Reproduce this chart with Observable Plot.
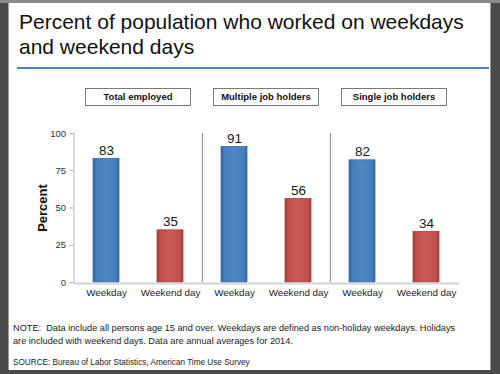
<!DOCTYPE html>
<html>
<head>
<meta charset="utf-8">
<script src="https://cdn.jsdelivr.net/npm/d3@7"></script>
<script src="https://cdn.jsdelivr.net/npm/@observablehq/plot@0.6"></script>
<style>
  html, body { margin: 0; padding: 0; }
  body { width: 500px; height: 374px; background: #4a4a4a; position: relative; overflow: hidden; font-family: "Liberation Sans", Arial, sans-serif; }
  #topstrip { position: absolute; left: 0; top: 0; width: 500px; height: 3px; background: #8a8a8a; }
  #panel { position: absolute; left: 8px; top: 3px; width: 483px; height: 367px; background: #fff; border-left: 1px solid #9a9a9a; border-right: 1px solid #9a9a9a; box-sizing: border-box; }
  #title { position: absolute; left: 19px; top: 9px; font-size: 21px; line-height: 25px; color: #111; white-space: nowrap; }
  #rule { position: absolute; left: 17px; top: 67px; width: 472px; height: 2px; background: #4f81bd; }
  #chart { position: absolute; left: 0; top: 80px; }
  .hdr { position: absolute; top: 88px; height: 18px; width: 106px; border: 1px solid #7a7a7a; box-sizing: border-box; background: #fff; font-weight: bold; font-size: 9.5px; line-height: 16px; text-align: center; color: #111; }
  #note { position: absolute; left: 13px; top: 322px; font-size: 9.2px; line-height: 13px; color: #222; white-space: nowrap; }
  #source { position: absolute; left: 13px; top: 358px; font-size: 8.2px; color: #222; white-space: nowrap; }
  g[aria-label="y-axis label"] text { font-weight: bold; font-size: 13px; fill: #111; }
</style>
</head>
<body>
<div id="topstrip"></div>
<div id="panel"></div>
<div id="title"></div>
<div id="rule"></div>
<div id="chart"></div>
<div id="headers"></div>
<div id="note"></div>
<div id="source"></div>
<svg width="0" height="0" style="position:absolute">
  <defs>
    <linearGradient id="gblue" x1="0" x2="1" y1="0" y2="0">
      <stop offset="0" stop-color="#3a66a0"/>
      <stop offset="0.15" stop-color="#4a7ebe"/>
      <stop offset="0.5" stop-color="#5088c8"/>
      <stop offset="0.85" stop-color="#4a7ebe"/>
      <stop offset="1" stop-color="#3a66a0"/>
    </linearGradient>
    <linearGradient id="gred" x1="0" x2="1" y1="0" y2="0">
      <stop offset="0" stop-color="#a33f3c"/>
      <stop offset="0.15" stop-color="#c0504d"/>
      <stop offset="0.5" stop-color="#cc5a56"/>
      <stop offset="0.85" stop-color="#c0504d"/>
      <stop offset="1" stop-color="#a33f3c"/>
    </linearGradient>
  </defs>
</svg>
<script>
const groups = ["Total employed", "Multiple job holders", "Single job holders"];
const days = ["Weekday", "Weekend day"];
const weekdayValues = [83, 91, 82];
const weekendValues = [35, 56, 34];
const yTicks = [0, 25, 50, 75, 100];
const yLabel = "Percent";
const titleLines = ["Percent of population who worked on weekdays", "and weekend days"];
const noteLines = [
  "NOTE:\u00a0 Data include all persons age 15 and over. Weekdays are defined as non-holiday weekdays. Holidays",
  "are included with weekend days. Data are annual averages for 2014."
];
const sourceText = "SOURCE: Bureau of Labor Statistics, American Time Use Survey";

const data = [];
groups.forEach((g, i) => {
  data.push({group: g, day: days[0], value: weekdayValues[i], key: g + "|" + days[0]});
  data.push({group: g, day: days[1], value: weekendValues[i], key: g + "|" + days[1]});
});
const keys = data.map(d => d.key);
const separators = data.filter(d => d.day === days[0] && d.group !== groups[0]);

document.getElementById("title").innerHTML = titleLines.join("<br>");
document.getElementById("note").innerHTML = noteLines.join("<br>");
document.getElementById("source").textContent = sourceText;

const W = 500, H = 225, ML = 73.5, MR = 41;
const step = (W - ML - MR) / keys.length;

const plot = Plot.plot({
  width: W,
  height: H,
  marginLeft: ML,
  marginRight: MR,
  marginTop: 53,
  marginBottom: 23,
  style: {fontFamily: "Liberation Sans, Arial, sans-serif", background: "transparent", overflow: "visible"},
  x: {domain: keys, paddingInner: 0.6, paddingOuter: 0.3, label: null},
  y: {domain: [0, 100], ticks: yTicks, label: yLabel},
  color: {domain: days, range: ["url(#gblue)", "url(#gred)"]},
  marks: [
    Plot.ruleX(separators, {x: "key", dx: -step / 2, y1: 0, y2: 100, stroke: "#8a8a8a", strokeWidth: 1}),
    Plot.barY(data, {x: "key", y: "value", fill: "day", stroke: d => d.day === days[0] ? "#3c6aa6" : "#a8423f", strokeWidth: 0.8}),
    Plot.ruleY([0], {stroke: "#d4d4d4", strokeWidth: 2, dy: 1}),
    Plot.text(data, {x: "key", y: "value", text: d => String(d.value), lineAnchor: "bottom", dy: -4, fontSize: 13.5, fill: "#1a1a1a"}),
    Plot.axisY({ticks: yTicks, tickSize: 4, stroke: "#b0b0b0", fontSize: 9.5, color: "#333", tickPadding: 4,
      label: yLabel, labelAnchor: "center", labelArrow: "none", labelOffset: 36}),
    Plot.axisX({tickSize: 0, tickPadding: 7, fontSize: 9.8, color: "#222", tickFormat: k => k.split("|")[1], label: null}),
    Plot.frame({anchor: "left", stroke: "#b8b8b8"})
  ]
});
document.getElementById("chart").appendChild(plot);

// header boxes centred over each group's pair of bars
const xs = plot.scale("x");
const hdr = document.getElementById("headers");
groups.forEach(g => {
  const a = xs.apply(g + "|" + days[0]) + xs.bandwidth / 2;
  const b = xs.apply(g + "|" + days[1]) + xs.bandwidth / 2;
  const c = (a + b) / 2;
  const el = document.createElement("div");
  el.className = "hdr";
  el.style.left = (c - 53) + "px";
  el.textContent = g;
  hdr.appendChild(el);
});
</script>
</body>
</html>
